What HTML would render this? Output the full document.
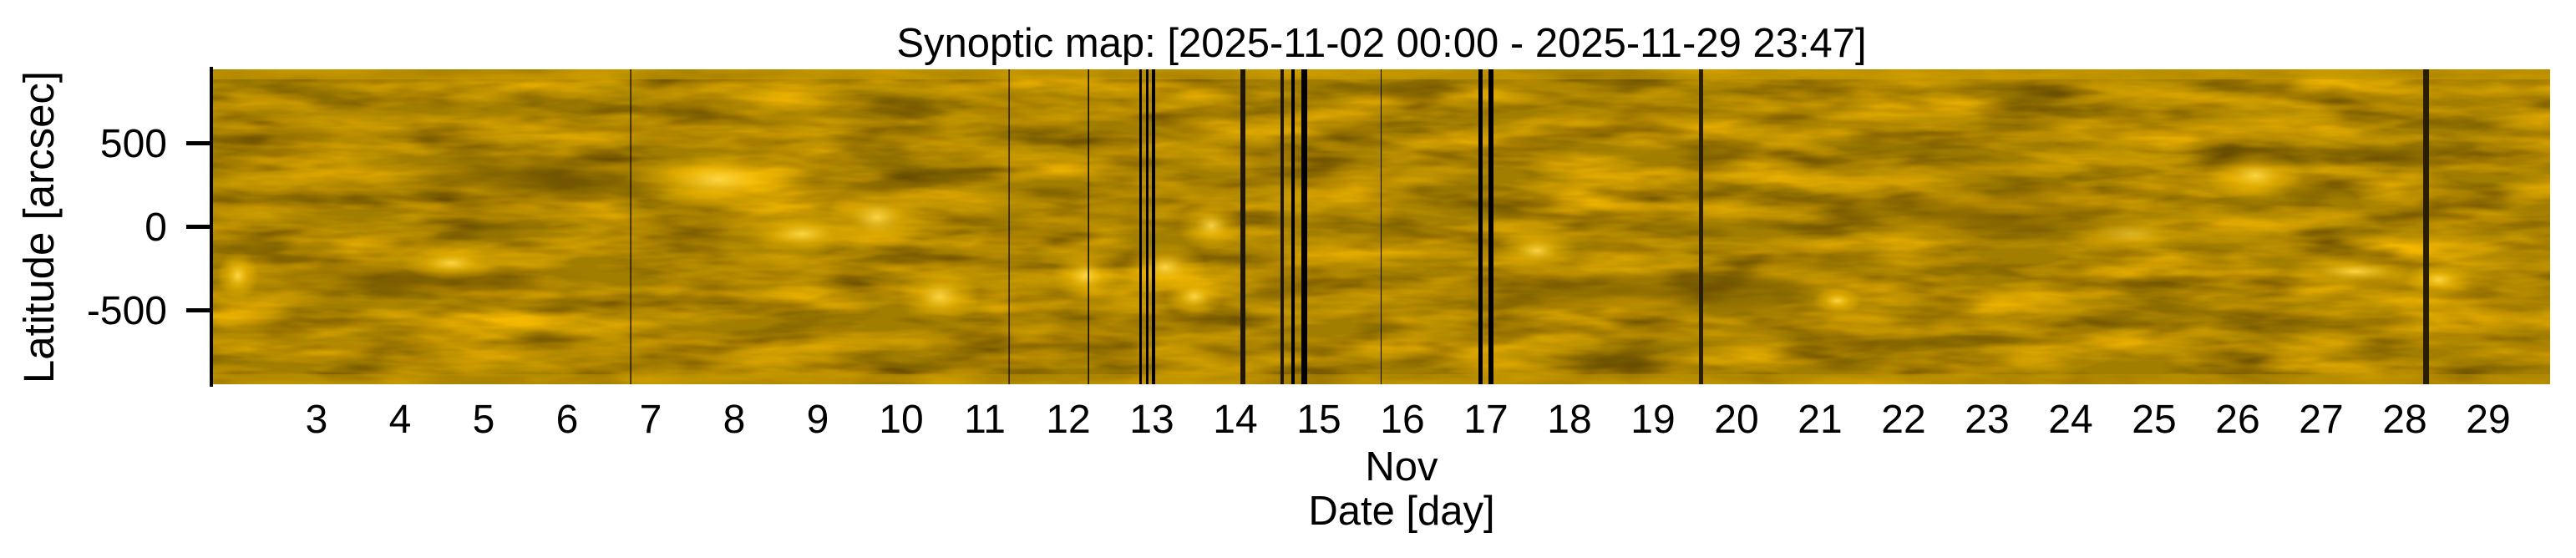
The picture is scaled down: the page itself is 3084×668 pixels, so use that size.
<!DOCTYPE html>
<html><head><meta charset="utf-8"><style>
html,body{margin:0;padding:0;background:#fff;}
svg{display:block;}
text{font-family:"Liberation Sans",Arial,sans-serif;fill:#000;}
</style></head><body>
<svg width="3084" height="668" viewBox="0 0 3084 668" xmlns="http://www.w3.org/2000/svg">
<defs>
<filter id="tex" x="0" y="0" width="100%" height="100%">
<feTurbulence type="fractalNoise" baseFrequency="0.006 0.035" numOctaves="4" seed="7" result="n"/>
<feColorMatrix in="n" type="matrix" values="0 0 0 0 0  0 0 0 0 0  0 0 0 0 0  1.8 0 0 0 -0.6" result="a"/>
<feFlood flood-color="#f5b800"/>
<feComposite in2="a" operator="in" result="lite"/>
<feTurbulence type="fractalNoise" baseFrequency="0.008 0.04" numOctaves="3" seed="3" result="n2"/>
<feColorMatrix in="n2" type="matrix" values="0 0 0 0 0  0 0 0 0 0  0 0 0 0 0  2.0 0 0 0 -0.8" result="b"/>
<feFlood flood-color="#664c00"/>
<feComposite in2="b" operator="in" result="dark"/>
<feMerge><feMergeNode in="lite"/><feMergeNode in="dark"/></feMerge>
</filter>
<radialGradient id="bl"><stop offset="0" stop-color="#ffd84a" stop-opacity="0.95"/><stop offset="0.5" stop-color="#ffc400" stop-opacity="0.45"/><stop offset="1" stop-color="#ffc400" stop-opacity="0"/></radialGradient>
<radialGradient id="dk"><stop offset="0" stop-color="#6a5000" stop-opacity="0.6"/><stop offset="1" stop-color="#6a5000" stop-opacity="0"/></radialGradient>
<clipPath id="pc"><rect x="253" y="83" width="2800" height="377"/></clipPath>
</defs>
<g clip-path="url(#pc)">
<rect x="253" y="83" width="2800" height="377" fill="#a27e00"/>
<rect x="253" y="83" width="2800" height="377" filter="url(#tex)"/>
<rect x="253" y="83" width="2800" height="12" fill="#c89a00" opacity="0.6"/>
<rect x="253" y="448" width="2800" height="12" fill="#c09400" opacity="0.5"/>
<ellipse cx="500" cy="335" rx="220" ry="25" fill="url(#dk)"/>
<ellipse cx="650" cy="215" rx="200" ry="30" fill="url(#dk)"/>
<ellipse cx="2000" cy="350" rx="250" ry="30" fill="url(#dk)"/>
<ellipse cx="2400" cy="260" rx="200" ry="35" fill="url(#dk)"/>
<ellipse cx="860" cy="215" rx="110" ry="35" fill="url(#bl)"/>
<ellipse cx="960" cy="280" rx="70" ry="25" fill="url(#bl)"/>
<ellipse cx="1050" cy="260" rx="60" ry="40" fill="url(#bl)"/>
<ellipse cx="1125" cy="355" rx="50" ry="35" fill="url(#bl)"/>
<ellipse cx="1300" cy="330" rx="40" ry="30" fill="url(#bl)"/>
<ellipse cx="1395" cy="320" rx="50" ry="30" fill="url(#bl)"/>
<ellipse cx="1450" cy="270" rx="40" ry="30" fill="url(#bl)"/>
<ellipse cx="1430" cy="355" rx="35" ry="25" fill="url(#bl)"/>
<ellipse cx="540" cy="315" rx="60" ry="20" fill="url(#bl)"/>
<ellipse cx="285" cy="330" rx="25" ry="30" fill="url(#bl)"/>
<ellipse cx="1840" cy="300" rx="50" ry="25" fill="url(#bl)"/>
<ellipse cx="2200" cy="360" rx="30" ry="15" fill="url(#bl)"/>
<ellipse cx="2700" cy="210" rx="60" ry="30" fill="url(#bl)"/>
<ellipse cx="2820" cy="325" rx="90" ry="20" fill="url(#bl)"/>
<ellipse cx="2920" cy="335" rx="40" ry="20" fill="url(#bl)"/>
<ellipse cx="2550" cy="280" rx="80" ry="25" fill="url(#bl)" opacity="0.6"/>
<g fill="#000">
<rect x="754.5" y="83" width="1.2" height="377"/>
<rect x="1207.5" y="83" width="1.2" height="377"/>
<rect x="1302.5" y="83" width="1.4" height="377"/>
<rect x="1364" y="83" width="3" height="377"/>
<rect x="1372" y="83" width="3" height="377"/>
<rect x="1379" y="83" width="4" height="377"/>
<rect x="1485" y="83" width="6" height="377" fill="#1e1600"/>
<rect x="1533" y="83" width="4" height="377" fill="#1e1600"/>
<rect x="1546" y="83" width="4" height="377"/>
<rect x="1558" y="83" width="7" height="377"/>
<rect x="1653" y="83" width="1" height="377"/>
<rect x="1770" y="83" width="5" height="377"/>
<rect x="1782" y="83" width="6" height="377"/>
<rect x="2034" y="83" width="5" height="377" fill="#2a1e00"/>
<rect x="2901" y="83" width="7" height="377" fill="#2a1e00"/>
</g>
</g>
<rect x="251" y="80" width="4" height="383" fill="#000"/>
<rect x="223" y="169" width="30" height="5" fill="#000"/>
<rect x="223" y="269" width="30" height="5" fill="#000"/>
<rect x="223" y="369" width="30" height="5" fill="#000"/>
<g font-size="48" text-anchor="end">
<text x="200" y="188">500</text>
<text x="200" y="288">0</text>
<text x="200" y="388">-500</text>
</g>
<text transform="translate(64,272) rotate(-90)" font-size="51" text-anchor="middle">Latitude [arcsec]</text>
<g font-size="48" text-anchor="middle">
<text x="379" y="518">3</text><text x="479" y="518">4</text><text x="579" y="518">5</text><text x="679" y="518">6</text><text x="779" y="518">7</text><text x="879" y="518">8</text><text x="979" y="518">9</text><text x="1079" y="518">10</text><text x="1179" y="518">11</text><text x="1279" y="518">12</text><text x="1379" y="518">13</text><text x="1479" y="518">14</text><text x="1579" y="518">15</text><text x="1679" y="518">16</text><text x="1779" y="518">17</text><text x="1879" y="518">18</text><text x="1979" y="518">19</text><text x="2079" y="518">20</text><text x="2179" y="518">21</text><text x="2279" y="518">22</text><text x="2379" y="518">23</text><text x="2479" y="518">24</text><text x="2579" y="518">25</text><text x="2679" y="518">26</text><text x="2779" y="518">27</text><text x="2879" y="518">28</text><text x="2979" y="518">29</text>
</g>
<text x="1678" y="575" font-size="49" text-anchor="middle">Nov</text>
<text x="1678" y="628" font-size="49" text-anchor="middle">Date [day]</text>
<text x="1654" y="68" font-size="49" text-anchor="middle">Synoptic map: [2025-11-02 00:00 - 2025-11-29 23:47]</text>
</svg>
</body></html>
